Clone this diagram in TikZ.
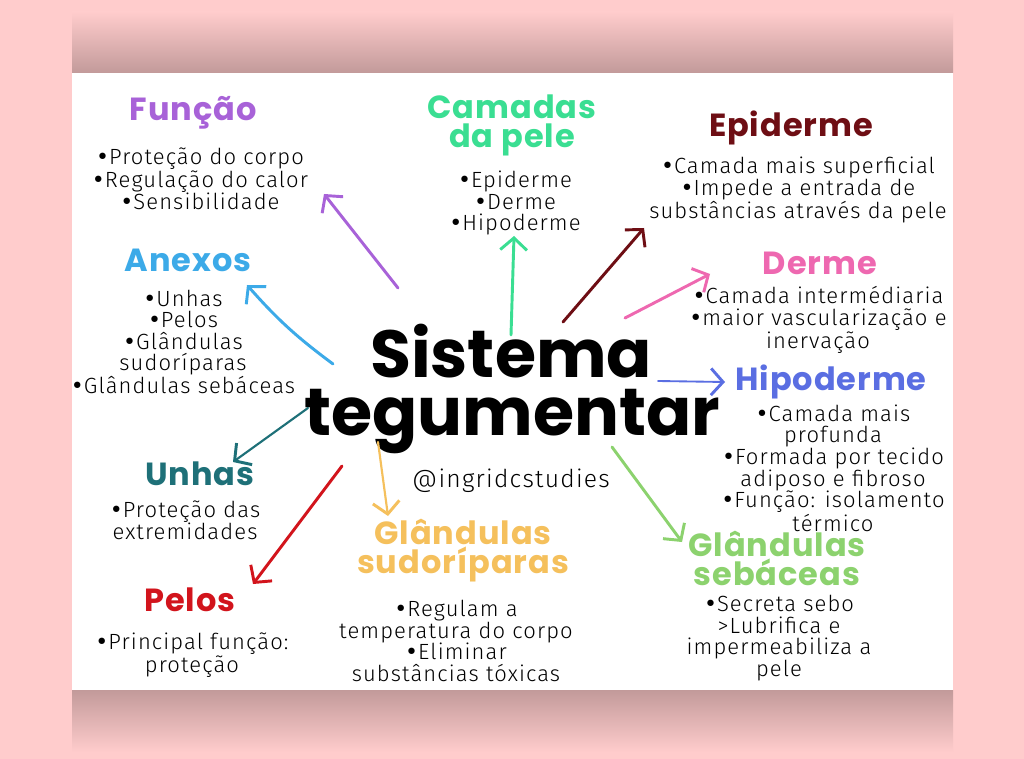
\documentclass[tikz,border=0pt]{standalone}
\usepackage{fontspec}
\setmainfont{Fira Sans}[UprightFont=* Light, BoldFont=* Bold, LetterSpace=5]
\newfontfamily\headfont{Poppins}[UprightFont=* Bold, LetterSpace=3]
\newfontfamily\titlefont{Poppins}[UprightFont=* Bold]
\newfontfamily\bulfont{DejaVu Sans}
\newcommand{\bu}{{\bulfont •}}
\usetikzlibrary{arrows.meta}
\definecolor{bgpink}{RGB}{255,204,204}
\definecolor{shadowc}{RGB}{194,154,154}
\definecolor{funcC}{RGB}{168,98,216}
\definecolor{camC}{RGB}{58,222,146}
\definecolor{epiC}{RGB}{110,14,20}
\definecolor{anexC}{RGB}{60,170,232}
\definecolor{dermC}{RGB}{238,104,176}
\definecolor{hipoC}{RGB}{90,110,226}
\definecolor{unhC}{RGB}{30,112,120}
\definecolor{pelC}{RGB}{210,20,28}
\definecolor{sudC}{RGB}{245,192,92}
\definecolor{sebC}{RGB}{140,210,110}
\tikzset{
  body/.style={font=\fontsize{16.5}{16.2}\selectfont, align=center, text=black, inner sep=0pt},
  head/.style={font=\headfont\fontsize{24}{21.8}\selectfont, align=center, inner sep=0pt},
  title/.style={font=\titlefont\fontsize{50}{45}\selectfont, align=center, inner sep=0pt, text=black},
  arr/.style={line width=2.2pt, line cap=round, line join=round, -{Straight Barb[length=9pt,width=20pt,line width=2.2pt]}},
}
\begin{document}
\begin{tikzpicture}[x=0.75pt,y=-0.75pt]
\useasboundingbox (0,0) rectangle (1024,759);
\fill[bgpink] (0,0) rectangle (1024,759);
\shade[top color=bgpink, bottom color=shadowc] (72,12) rectangle (953,73);
\shade[top color=shadowc, bottom color=bgpink] (72,690) rectangle (953,752);
\fill[white] (72,73) rectangle (953,690);

% title
\node[title] (title1) at (511,351) {Sistema};
\node[title] (title2) at (512,422) {tegumentar};
\node[body, font=\fontsize{18.5}{19}\selectfont] (insta) at (511,481) {@ingridcstudies};

% headings
\node[head, text=funcC] (funcao) at (193,113) {Função};
\node[head, text=camC] (camadas) at (512,125) {Camadas\\da pele};
\node[head, text=epiC] (epiderme) at (791,128) {Epiderme};
\node[head, text=anexC] (anexos) at (188,260) {Anexos};
\node[head, text=dermC] (derme) at (820,263) {Derme};
\node[head, text=hipoC] (hipoderme) at (831,382) {Hipoderme};
\node[head, text=unhC] (unhas) at (200,474) {Unhas};
\node[head, text=pelC] (pelos) at (190,600) {Pelos};
\node[head, text=sudC] (sudoriparas) at (463,551) {Glândulas\\sudoríparas};
\node[head, text=sebC] (sebaceas) at (777,558) {Glândulas\\sebáceas};

% bodies
\node[body] (funcaoT) at (200,179) {\bu Proteção do corpo\\\bu Regulação do calor\\\bu Sensibilidade};
\node[body] (camadasT) at (515,203) {\bu Epiderme\\\bu Derme\\\bu Hipoderme};
\node[body] (epidermeT) at (798,190) {\bu Camada mais superficial\\\bu Impede a entrada de\\substâncias através da pele};
\node[body] (anexosT) at (183,342) {\bu Unhas\\\bu Pelos\\\bu Glândulas\\sudoríparas\\\bu Glândulas sebáceas};
\node[body] (dermeT) at (818,320) {\bu Camada intermédiaria\\\bu maior vascularização e\\inervação};
\node[body] (hipodermeT) at (833,468) {\bu Camada mais\\profunda\\\bu Formada por tecido\\adiposo e fibroso\\\bu Função: isolamento\\térmico};
\node[body] (unhasT) at (185,520) {\bu Proteção das\\extremidades};
\node[body] (pelosT) at (192,655) {\bu Principal função:\\proteção};
\node[body] (sudoriparasT) at (456,641) {\bu Regulam a\\temperatura do corpo\\\bu Eliminar\\substâncias tóxicas};
\node[body] (sebaceasT) at (779,638) {\bu Secreta sebo\\>Lubrifica e\\impermeabiliza a\\pele};

% arrow ends
\coordinate (sF) at (398,288); \coordinate (eF) at (324,194);
\coordinate (sA) at (333,364); \coordinate (eA) at (247,285);
\coordinate (sC) at (511,335); \coordinate (eC) at (514,236);
\coordinate (sE) at (563,322); \coordinate (eE) at (644,228);
\coordinate (sD) at (625,318); \coordinate (eD) at (710,274);
\coordinate (sH) at (658,381); \coordinate (eH) at (725,382);
\coordinate (sU) at (308,408); \coordinate (eU) at (233,462);
\coordinate (sP) at (342,466); \coordinate (eP) at (253,584);
\coordinate (sS) at (378,442); \coordinate (eS) at (388,516);
\coordinate (sB) at (612,447); \coordinate (eB) at (682,542);

\draw[arr, funcC] (sF) -- (eF);
\draw[arr, anexC] (sA) to[bend left=6] (eA);
\draw[arr, camC] (sC) -- (eC);
\draw[arr, epiC] (sE) -- (eE);
\draw[arr, dermC] (sD) -- (eD);
\draw[arr, hipoC, line width=1.4pt] (sH) -- (eH);
\draw[arr, unhC, line width=1.6pt] (sU) -- (eU);
\draw[arr, pelC] (sP) -- (eP);
\draw[arr, sudC, line width=1.6pt] (sS) -- (eS);
\draw[arr, sebC] (sB) -- (eB);
\end{tikzpicture}
\end{document}
